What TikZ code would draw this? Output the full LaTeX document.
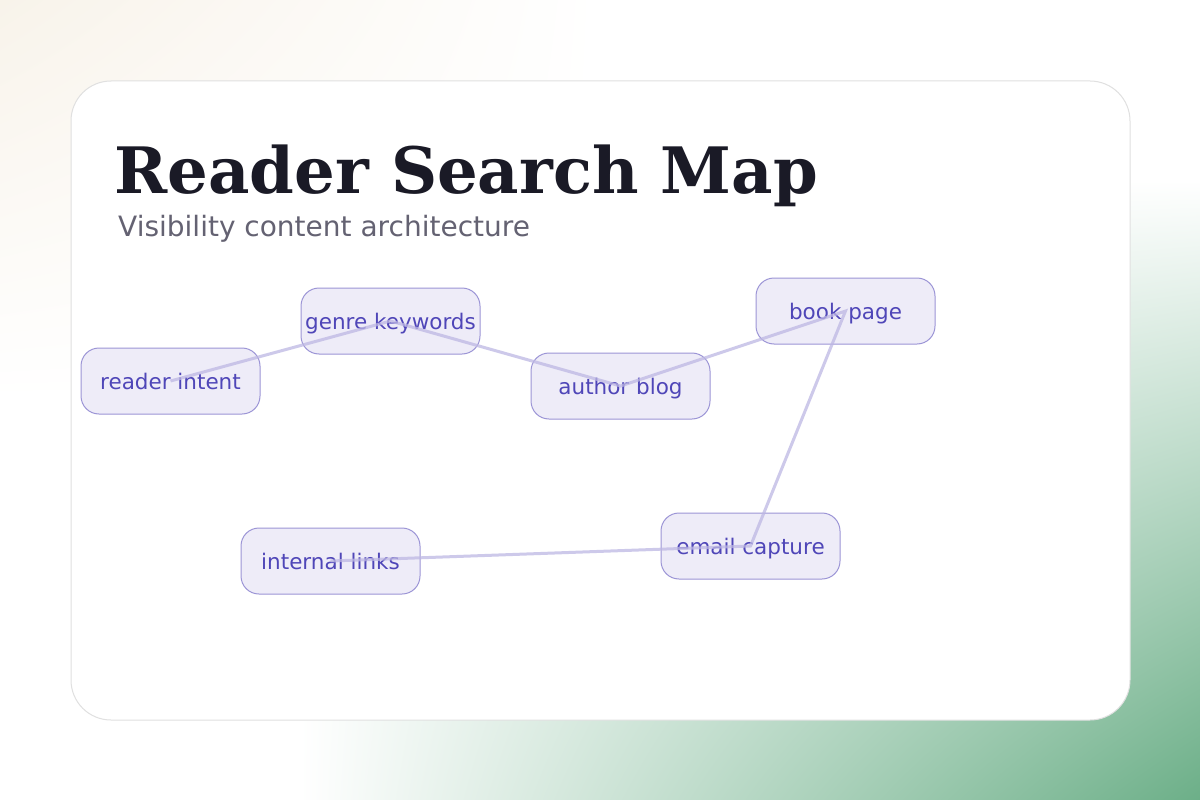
\documentclass[tikz,border=0pt]{standalone}
\usepackage{fontspec}
\usetikzlibrary{shadings}
\setmainfont{DejaVu Sans}
\newfontfamily\titlefont{DejaVu Serif}
\definecolor{cream}{HTML}{F8F3EA}
\definecolor{bggreen}{HTML}{6CAF88}
\definecolor{nodefill}{HTML}{EEECF8}
\definecolor{nodeline}{HTML}{9C95D6}
\definecolor{nodetext}{HTML}{4F46B8}
\definecolor{edgec}{HTML}{BDB7E3}
\definecolor{titlec}{HTML}{1A1A26}
\definecolor{subc}{HTML}{646272}
\tikzset{
  topic/.style={draw=nodeline, fill=nodefill, rounded corners=18pt, minimum width=179pt, minimum height=66pt, text=nodetext, font=\fontsize{21.5}{24}\selectfont, line width=1pt, text depth=0pt, text height=16pt, inner sep=0pt},
  link/.style={draw=edgec, line width=3pt, opacity=0.75}
}
\begin{document}
\begin{tikzpicture}[x=1pt,y=-1pt]
\useasboundingbox (0,0) rectangle (1200,800);
\fill[white] (0,0) rectangle (1200,800);
\shade[upper left=cream, upper right=white, lower left=white, lower right=white] (0,0) rectangle (600,400);
\shade[upper left=white, upper right=white, lower left=white, lower right=bggreen] (300,180) rectangle (1200,800);
\filldraw[fill=white, draw=black!12, line width=1pt, rounded corners=40pt] (71,81) rectangle (1130,720);
\node[anchor=base west, text=titlec, font=\titlefont\bfseries\fontsize{64}{70}\selectfont, inner sep=0] (title) at (114,193) {Reader Search Map};
\node[anchor=base west, text=subc, font=\fontsize{28}{32}\selectfont, inner sep=0] (sub) at (118,236) {Visibility content architecture};
\node[topic] (reader) at (170.5,381) {reader intent};
\node[topic] (genre) at (390.5,321) {genre keywords};
\node[topic] (author) at (620.5,386) {author blog};
\node[topic] (book) at (845.5,311) {book page};
\node[topic] (internal) at (330.5,561) {internal links};
\node[topic] (email) at (750.5,546) {email capture};
\draw[link] (reader.center) -- (genre.center) -- (author.center) -- (book.center) -- (email.center) -- (internal.center);
\end{tikzpicture}
\end{document}
